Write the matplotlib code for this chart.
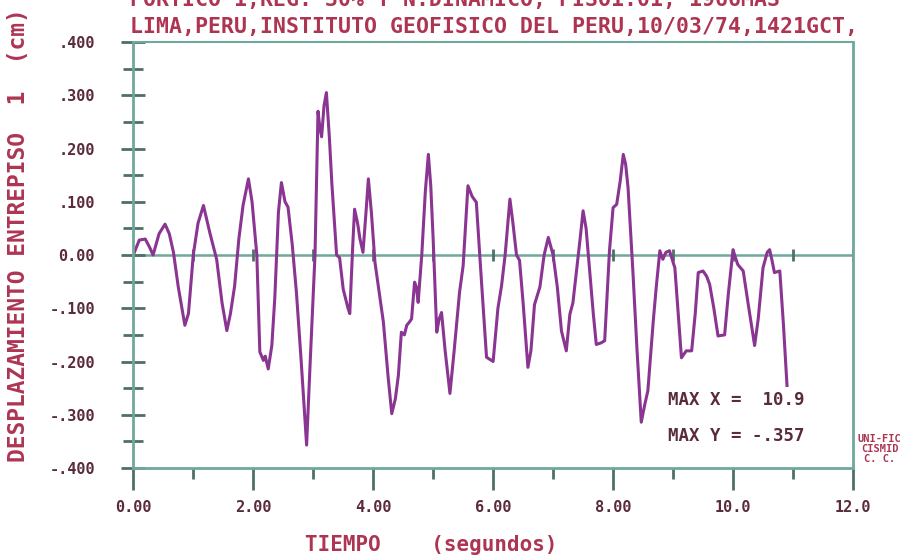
import matplotlib
matplotlib.use("Agg")
import matplotlib.pyplot as plt
import numpy as np
from matplotlib.ticker import MultipleLocator, FixedLocator

# displacement record (seconds, cm)
tiempo = [
    0.00, 0.10, 0.20, 0.27, 0.33, 0.43, 0.53, 0.60, 0.67, 0.75, 0.86, 0.92,
    1.00, 1.08, 1.17, 1.28, 1.39, 1.48, 1.56, 1.62, 1.69, 1.76, 1.83, 1.92,
    1.98, 2.06, 2.11, 2.17, 2.20, 2.25, 2.31, 2.36, 2.42, 2.47, 2.53, 2.58,
    2.65, 2.72, 2.80, 2.89, 2.95, 3.03, 3.08, 3.11, 3.14, 3.18, 3.22, 3.27,
    3.31, 3.39, 3.44, 3.50, 3.58, 3.61, 3.66, 3.69, 3.74, 3.78, 3.83, 3.88,
    3.92, 3.97, 4.03, 4.10, 4.17, 4.25, 4.31, 4.37, 4.42, 4.47, 4.52, 4.56,
    4.61, 4.64, 4.69, 4.72, 4.75, 4.81, 4.87, 4.92, 4.96, 5.00, 5.06, 5.10,
    5.14, 5.20, 5.28, 5.35, 5.44, 5.50, 5.58, 5.65, 5.72, 5.80, 5.89, 6.00,
    6.08, 6.14, 6.20, 6.28, 6.33, 6.39, 6.44, 6.50, 6.58, 6.63, 6.69, 6.78,
    6.85, 6.92, 7.00, 7.07, 7.14, 7.22, 7.28, 7.33, 7.39, 7.45, 7.50, 7.55,
    7.61, 7.67, 7.72, 7.80, 7.86, 7.94, 8.00, 8.06, 8.12, 8.17, 8.21, 8.25,
    8.33, 8.40, 8.47, 8.53, 8.58, 8.67, 8.72, 8.78, 8.83, 8.88, 8.94, 9.03,
    9.08, 9.14, 9.22, 9.31, 9.37, 9.42, 9.50, 9.56, 9.61, 9.68, 9.75, 9.86,
    9.92, 10.00, 10.04, 10.08, 10.17, 10.25, 10.36, 10.42, 10.50, 10.57,
    10.61, 10.65, 10.69, 10.78, 10.84, 10.90,
]
desplazamiento = [
    0.000, 0.028, 0.030, 0.015, 0.000, 0.040, 0.058, 0.040, 0.005, -0.060, -0.132, -0.110,
    0.000, 0.060, 0.093, 0.040, -0.008, -0.090, -0.142, -0.110, -0.058, 0.030, 0.093, 0.143,
    0.100, 0.000, -0.182, -0.198, -0.190, -0.214, -0.170, -0.080, 0.080, 0.136, 0.100, 0.090,
    0.020, -0.070, -0.200, -0.357, -0.200, 0.000, 0.270, 0.240, 0.222, 0.280, 0.305, 0.220,
    0.136, 0.000, -0.005, -0.064, -0.100, -0.110, 0.020, 0.086, 0.060, 0.030, 0.005, 0.080,
    0.143, 0.080, -0.014, -0.070, -0.126, -0.230, -0.298, -0.270, -0.226, -0.145, -0.150, -0.132,
    -0.125, -0.120, -0.051, -0.060, -0.089, 0.000, 0.120, 0.189, 0.130, 0.030, -0.145, -0.120,
    -0.108, -0.180, -0.260, -0.180, -0.070, -0.020, 0.130, 0.110, 0.099, -0.040, -0.192, -0.200,
    -0.100, -0.058, 0.000, 0.105, 0.060, 0.000, -0.010, -0.090, -0.211, -0.180, -0.093, -0.060,
    0.000, 0.033, 0.000, -0.060, -0.143, -0.180, -0.111, -0.090, -0.030, 0.030, 0.083, 0.050,
    -0.030, -0.110, -0.168, -0.165, -0.161, 0.008, 0.089, 0.095, 0.140, 0.189, 0.170, 0.126,
    -0.030, -0.180, -0.314, -0.280, -0.255, -0.124, -0.060, 0.008, -0.008, 0.005, 0.008, -0.024,
    -0.100, -0.193, -0.180, -0.180, -0.110, -0.033, -0.030, -0.040, -0.055, -0.100, -0.152, -0.150,
    -0.075, 0.010, -0.005, -0.018, -0.030, -0.090, -0.170, -0.120, -0.024, 0.005,
    0.010, -0.010, -0.033, -0.030, -0.130, -0.245,
]

y_ticks = [-0.4, -0.3, -0.2, -0.1, 0.0, 0.1, 0.2, 0.3, 0.4]
y_labels = ["-.400", "-.300", "-.200", "-.100", "0.00", ".100", ".200", ".300", ".400"]
x_ticks = [0, 2, 4, 6, 8, 10, 12]
x_labels = ["0.00", "2.00", "4.00", "6.00", "8.00", "10.0", "12.0"]

max_x = 10.9
max_y = -0.357

titulo1 = "PORTICO 1,REG. 30% Y N.DINAMICO, PISO1.01, 1966MAS"
titulo2 = "LIMA,PERU,INSTITUTO GEOFISICO DEL PERU,10/03/74,1421GCT,"

C_AXIS = "#6fa89c"
C_TICK = "#4f6f68"
C_LINE = "#8a3592"
C_TEXT = "#5a2b3c"
C_RED = "#ad3552"
FONT = "DejaVu Sans Mono"

fig = plt.figure(figsize=(9.03, 5.58), dpi=100)
ax = fig.add_axes([0.1476, 0.1613, 0.797, 0.7634])

ax.plot(tiempo, desplazamiento, color=C_LINE, lw=2.2, solid_joinstyle="round")

# zero line with one-second marks
ax.axhline(0, color=C_AXIS, lw=1.8, zorder=1)
seg = np.arange(1, 13)
ax.plot(seg, np.zeros(len(seg)), ls="none", marker="|", ms=9, mew=2,
        color=C_TICK, zorder=1)

ax.set_xlim(0, 12)
ax.set_ylim(-0.4, 0.4)

for s in ax.spines.values():
    s.set_color(C_AXIS)
    s.set_linewidth(2)
ax.spines["top"].set_linewidth(1.5)

ax.yaxis.set_major_locator(FixedLocator(y_ticks))
ax.yaxis.set_minor_locator(MultipleLocator(0.05))
ax.set_yticklabels(y_labels)
ax.xaxis.set_major_locator(FixedLocator(x_ticks))
ax.xaxis.set_minor_locator(MultipleLocator(1))
ax.set_xticklabels(x_labels)

ax.tick_params(axis="y", which="major", direction="inout", length=17, width=2,
               color=C_TICK, pad=19)
ax.tick_params(axis="y", which="minor", direction="inout", length=15, width=2,
               color=C_TICK)
ax.tick_params(axis="x", which="major", direction="out", length=16, width=2,
               color=C_TICK, pad=7)
ax.tick_params(axis="x", which="minor", direction="out", length=8, width=2,
               color=C_TICK)
ax.tick_params(right=False, top=False)

for lab in ax.get_xticklabels() + ax.get_yticklabels():
    lab.set_fontfamily(FONT)
    lab.set_fontweight("bold")
    lab.set_fontsize(11)
    lab.set_color(C_TEXT)

ax.text(0.743, 0.16, f"MAX X =  {max_x:.1f}", transform=ax.transAxes,
        family=FONT, weight="bold", fontsize=12.5, color=C_TEXT, va="center")
ax.text(0.743, 0.075, "MAX Y = -" + f"{abs(max_y):.3f}".lstrip("0"),
        transform=ax.transAxes, family=FONT, weight="bold", fontsize=12.5,
        color=C_TEXT, va="center")

fig.text(0.144, 1.0, titulo1, family=FONT, weight="bold", fontsize=15.5,
         color=C_RED, va="center", ha="left")
fig.text(0.144, 0.951, titulo2, family=FONT, weight="bold", fontsize=15.5,
         color=C_RED, va="center", ha="left")

fig.text(0.478, 0.023, "TIEMPO    (segundos)", family=FONT, weight="bold",
         fontsize=15, color=C_RED, ha="center", va="center")
fig.text(0.02, 0.579, "DESPLAZAMIENTO ENTREPISO  1  (cm)", family=FONT,
         weight="bold", fontsize=16.5, color=C_RED, rotation=90,
         ha="center", va="center")

fig.text(0.974, 0.195, "UNI-FIC\nCISMID\nC. C.", family=FONT, weight="bold",
         fontsize=7.5, color=C_RED, ha="center", va="center", linespacing=1.0)

fig.savefig("out.png", dpi=100)
